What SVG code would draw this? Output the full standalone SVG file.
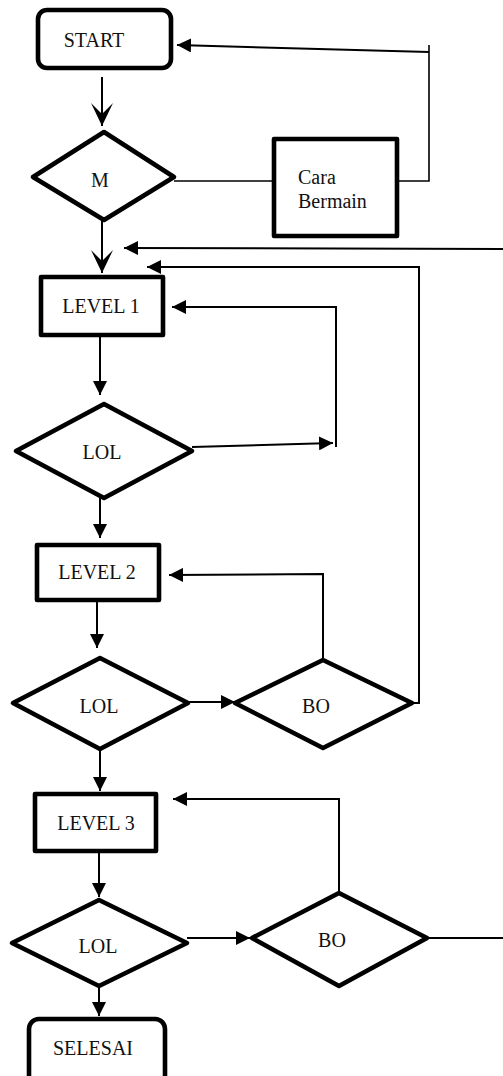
<svg xmlns="http://www.w3.org/2000/svg" width="503" height="1076" viewBox="0 0 503 1076">
<style>
.box{fill:#fff;stroke:#000;stroke-width:4.6;stroke-linejoin:round}
.t{font-family:"Liberation Serif","Times New Roman",serif;font-size:20px;fill:#111;text-anchor:middle}
.tl{font-family:"Liberation Serif","Times New Roman",serif;font-size:20px;fill:#111}
.c{fill:none;stroke:#000;stroke-width:1.6}
.a{fill:none;stroke:#000;stroke-width:2}
</style>
<defs>
<marker id="tri" viewBox="0 0 14 14" refX="14" refY="7" markerWidth="14" markerHeight="14" markerUnits="userSpaceOnUse" orient="auto">
<path d="M0,0 L14,7 L0,14 Z" fill="#000"/>
</marker>
<marker id="stealth" viewBox="0 0 23 22" refX="23" refY="11" markerWidth="23" markerHeight="22" markerUnits="userSpaceOnUse" orient="auto">
<path d="M0,0 L23,11 L0,22 L11,11 Z" fill="#000"/>
</marker>
</defs>
<g id="connectors">
<line class="a" x1="102" y1="77" x2="102" y2="126" marker-end="url(#stealth)"/>
<line class="a" x1="102" y1="220" x2="102" y2="273" marker-end="url(#stealth)"/>
<line class="c" x1="174" y1="181" x2="272" y2="181"/>
<polyline class="c" points="399,181 429,181 429,45"/>
<line class="a" x1="429" y1="52" x2="177" y2="45" marker-end="url(#tri)"/>
<line class="a" x1="503" y1="249" x2="124" y2="248" marker-end="url(#tri)"/>
<polyline class="a" points="412,703 419,703 419,267 147,267" marker-end="url(#tri)"/>
<line class="a" x1="192" y1="447" x2="333" y2="443" marker-end="url(#tri)"/>
<polyline class="a" points="336,447 336,307 172,307" marker-end="url(#tri)"/>
<line class="a" x1="100" y1="337" x2="100" y2="395" marker-end="url(#tri)"/>
<line class="a" x1="100" y1="498" x2="100" y2="538" marker-end="url(#tri)"/>
<polyline class="a" points="323,660 323,574 169,575" marker-end="url(#tri)"/>
<line class="a" x1="97" y1="602" x2="97" y2="648" marker-end="url(#tri)"/>
<line class="a" x1="188" y1="702" x2="235" y2="702" marker-end="url(#tri)"/>
<line class="a" x1="100" y1="749" x2="100" y2="791" marker-end="url(#tri)"/>
<polyline class="a" points="339,893 339,799 173,799" marker-end="url(#tri)"/>
<line class="a" x1="99" y1="853" x2="99" y2="897" marker-end="url(#tri)"/>
<line class="a" x1="187" y1="938" x2="250" y2="938" marker-end="url(#tri)"/>
<line class="a" x1="427" y1="938" x2="503" y2="938"/>
<line class="a" x1="99" y1="986" x2="99" y2="1016" marker-end="url(#tri)"/>
</g>
<g id="start">
<rect class="box" x="38" y="10" width="133" height="58" rx="9"/>
<text class="t" x="94" y="47">START</text>
</g>
<g id="m">
<polygon class="box" points="33,177 104,132 174,177 104,220"/>
<text class="t" x="100" y="187">M</text>
</g>
<g id="cara-bermain">
<rect class="box" x="274" y="139" width="123" height="97"/>
<text class="tl" x="298" y="184">Cara</text>
<text class="tl" x="298" y="208">Bermain</text>
</g>
<g id="level1">
<rect class="box" x="41" y="277" width="122" height="58"/>
<text class="t" x="101" y="313">LEVEL 1</text>
</g>
<g id="lol1">
<polygon class="box" points="16,451 104,404 192,451 104,498"/>
<text class="t" x="102" y="459">LOL</text>
</g>
<g id="level2">
<rect class="box" x="37" y="545" width="122" height="55"/>
<text class="t" x="97" y="579">LEVEL 2</text>
</g>
<g id="lol2">
<polygon class="box" points="13,703 100,658 188,703 100,749"/>
<text class="t" x="99" y="713">LOL</text>
</g>
<g id="bo2">
<polygon class="box" points="235,703 323,660 412,703 323,748"/>
<text class="t" x="316" y="713">BO</text>
</g>
<g id="level3">
<rect class="box" x="35" y="794" width="121" height="57"/>
<text class="t" x="96" y="830">LEVEL 3</text>
</g>
<g id="lol3">
<polygon class="box" points="12,943 99,900 187,943 99,986"/>
<text class="t" x="98" y="953">LOL</text>
</g>
<g id="bo3">
<polygon class="box" points="252,938 339,893 427,938 339,986"/>
<text class="t" x="332" y="947">BO</text>
</g>
<g id="selesai">
<rect class="box" x="29" y="1019" width="136" height="70" rx="10"/>
<text class="t" x="93" y="1055">SELESAI</text>
</g>
</svg>
